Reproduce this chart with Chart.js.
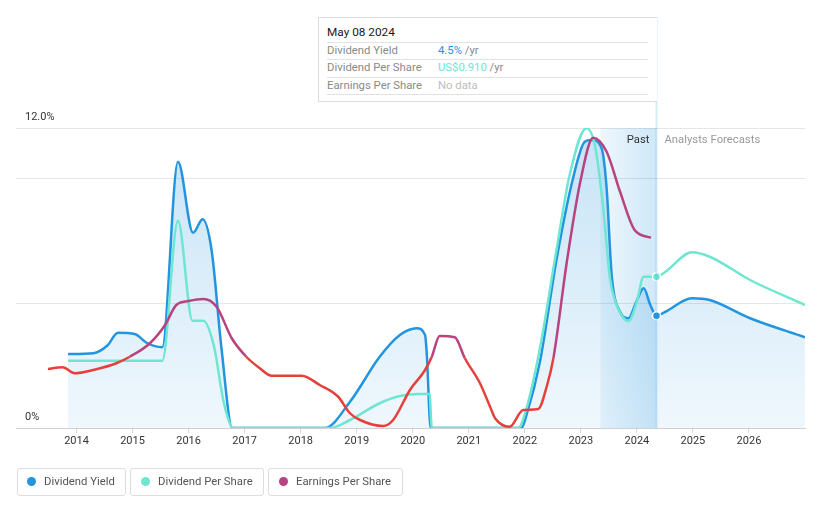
<!DOCTYPE html>
<html><head><meta charset="utf-8">
<script src="https://cdn.jsdelivr.net/npm/chart.js@4/dist/chart.umd.min.js"></script>
<style>
body{margin:0;background:#fff;font-family:Roboto,"Open Sans",Arial,sans-serif;}
#wrap{position:relative;width:821px;height:508px;overflow:hidden;}
#c{position:absolute;left:0;top:0;}
.a{position:absolute;white-space:nowrap;line-height:14px;font-size:11.3px;}
.tip{position:absolute;left:318px;top:17px;width:339px;height:85px;border:1px solid #ddd;border-right:none;box-sizing:border-box;background:#fff;}
.sep{position:absolute;left:327px;width:321px;height:1px;background:#e2e2e2;}
.btn{position:absolute;top:468px;height:28px;border:1px solid #ddd;border-radius:3px;box-sizing:border-box;background:#fff;}
.dot{position:absolute;width:9px;height:9px;border-radius:50%;}
</style></head>
<body><div id="wrap">
<canvas id="c" width="821" height="508"></canvas>
<div class="tip"></div>
<div class="a" style="left:327px;top:25px;color:#1a1a1a;font-size:11.8px;">May 08 2024</div>
<div class="sep" style="top:42px"></div>
<div class="a" style="left:327px;top:44px;color:#8a8a8a;">Dividend Yield</div>
<div class="a" style="left:438px;top:44px;color:#8a8a8a;"><span style="color:#2394df">4.5%</span> /yr</div>
<div class="sep" style="top:59px"></div>
<div class="a" style="left:327px;top:61px;color:#8a8a8a;">Dividend Per Share</div>
<div class="a" style="left:438px;top:61px;color:#8a8a8a;"><span style="color:#6ee6d2">US$0.910</span> /yr</div>
<div class="sep" style="top:77px"></div>
<div class="a" style="left:327px;top:79px;color:#8a8a8a;">Earnings Per Share</div>
<div class="a" style="left:438px;top:79px;color:#bdbdbd;">No data</div>
<div class="sep" style="top:94px"></div>

<div class="btn" style="left:17px;width:109px;"></div>
<div class="dot" style="left:27px;top:477px;background:#2394df"></div>
<div class="a" style="left:44px;top:475px;color:#555;">Dividend Yield</div>
<div class="btn" style="left:130px;width:134px;"></div>
<div class="dot" style="left:141px;top:477px;background:#6ee6d2"></div>
<div class="a" style="left:158px;top:475px;color:#555;">Dividend Per Share</div>
<div class="btn" style="left:268px;width:135px;"></div>
<div class="dot" style="left:279px;top:477px;background:#b8437f"></div>
<div class="a" style="left:296px;top:475px;color:#555;">Earnings Per Share</div>
</div>
<script>
// ---- data (x = decimal year, y = chart value; y-axis in %) ----
const dyX = [2013.85,2014.30,2014.55,2014.74,2015.04,2015.25,2015.53,2015.81,2016.08,2016.25,2016.41,2016.59,2016.78,2018.43,2018.88,2019.41,2019.77,2020.07,2020.22,2020.25,2020.32,2021.94,2022.03,2022.27,2022.57,2022.86,2023.07,2023.19,2023.37,2023.46,2023.55,2023.70,2023.85,2023.99,2024.12,2024.24,2024.35,2024.51,2024.98,2025.30,2026.02,2027.00];
const dyY = [2.96,2.99,3.30,3.81,3.76,3.41,3.23,10.65,7.81,8.35,7.12,3.12,0,0,1.05,2.85,3.72,3.99,3.72,2.99,0,0,0.52,2.65,6.79,9.99,11.45,11.52,11.19,9.59,6.12,4.65,4.39,5.05,5.59,4.92,4.49,4.65,5.19,5.12,4.39,3.63];
const dpsX = [2013.85,2015.53,2015.81,2016.07,2016.26,2016.45,2016.63,2016.80,2018.52,2018.88,2019.41,2019.77,2020.10,2020.30,2020.34,2021.88,2022.03,2022.27,2022.57,2022.80,2023.10,2023.25,2023.40,2023.52,2023.64,2023.85,2024.00,2024.12,2024.35,2024.51,2024.98,2025.30,2026.02,2027.00];
const dpsY = [2.69,2.69,8.29,4.29,4.29,3.30,1.00,0,0,0.32,0.99,1.28,1.36,1.36,0,0,0.79,3.19,7.19,10.12,11.99,11.32,8.79,5.99,4.92,4.28,5.05,6.05,6.05,6.25,7.03,6.85,5.92,4.92];
const epsX = [2013.49,2013.75,2013.97,2014.30,2014.71,2014.95,2015.31,2015.58,2015.78,2016.00,2016.26,2016.50,2016.77,2017.03,2017.27,2017.48,2018.02,2018.34,2018.67,2018.88,2019.06,2019.47,2019.65,2019.95,2020.22,2020.34,2020.48,2020.75,2020.93,2021.20,2021.38,2021.47,2021.73,2021.97,2022.24,2022.39,2022.51,2022.75,2022.99,2023.22,2023.46,2023.70,2023.96,2024.25];
const epsY = [2.36,2.43,2.19,2.32,2.59,2.85,3.39,4.12,4.92,5.08,5.16,4.85,3.59,2.85,2.39,2.09,2.09,1.72,1.25,0.59,0.32,0.08,0.32,1.52,2.32,2.85,3.68,3.63,2.79,1.79,0.85,0.39,0.05,0.72,0.76,1.65,2.79,6.65,9.85,11.61,11.05,9.45,7.92,7.61];
const epsRedRanges = [[2013.0,2014.95],[2017.03,2020.34],[2020.93,2022.51]];
const yearTicks = [2014,2015,2016,2017,2018,2019,2020,2021,2022,2023,2024,2025,2026];
const yTicks = [0,5,10,12];
const yLabels = {0:"0%",12:"12.0%"};
const pastStart = 2023.35, forecastStart = 2024.35;

const BLUE="#2394df", TEAL="#6ee6d2", PURPLE="#b8437f", RED="#e5403b";
const pts = (xs,ys)=>xs.map((x,i)=>({x:x,y:ys[i]}));
const isRed = x => epsRedRanges.some(r=>x>=r[0]&&x<=r[1]);

const deco = {
  id:'deco',
  beforeDatasetsDraw(chart){
    const {ctx,chartArea:a,scales:{x}} = chart;
    const x0=x.getPixelForValue(pastStart), x1=x.getPixelForValue(forecastStart);
    const g=ctx.createLinearGradient(x0,0,x1,0);
    g.addColorStop(0,'rgba(35,148,223,0.08)');
    g.addColorStop(1,'rgba(35,148,223,0.22)');
    ctx.save();
    ctx.fillStyle=g; ctx.fillRect(x0,a.top,x1-x0,a.bottom-a.top);
    ctx.restore();
  },
  afterDatasetsDraw(chart){
    const {ctx,chartArea:a,scales:{x,y}} = chart;
    const x1=x.getPixelForValue(forecastStart);
    ctx.save();
    ctx.strokeStyle='rgba(35,148,223,0.18)'; ctx.lineWidth=2;
    ctx.beginPath(); ctx.moveTo(x1,17); ctx.lineTo(x1,a.bottom); ctx.stroke();
    ctx.font='11.3px Roboto'; ctx.textBaseline='middle';
    ctx.fillStyle='#333'; ctx.textAlign='right'; ctx.fillText('Past',x1-7,a.top+12);
    ctx.fillStyle='#999'; ctx.textAlign='left'; ctx.fillText('Analysts Forecasts',x1+8,a.top+12);
    ctx.font='11px Roboto'; ctx.fillStyle='#333'; ctx.textBaseline='alphabetic';
    for (const v in yLabels){ ctx.fillText(yLabels[v],25,y.getPixelForValue(+v)-8); }
    ctx.restore();
  }
};

function dyFill(c){
  const ch=c.chart, a=ch.chartArea;
  if(!a) return 'rgba(35,148,223,0.15)';
  const g=ch.ctx.createLinearGradient(0,a.top,0,a.bottom);
  g.addColorStop(0,'rgba(35,148,223,0.26)');
  g.addColorStop(1,'rgba(35,148,223,0.07)');
  return g;
}
const markR = c => (c.raw && c.raw.x===forecastStart ? 4 : 0);

new Chart(document.getElementById('c'),{
  type:'line',
  data:{datasets:[
    {label:'Earnings Per Share',data:pts(epsX,epsY),borderColor:PURPLE,borderWidth:2.5,pointRadius:0,
     cubicInterpolationMode:'monotone',fill:false,order:1,
     segment:{borderColor:c=>isRed((c.p0.parsed.x+c.p1.parsed.x)/2)?RED:PURPLE}},
    {label:'Dividend Per Share',data:pts(dpsX,dpsY),borderColor:TEAL,borderWidth:2.5,
     pointRadius:markR,pointBackgroundColor:TEAL,pointBorderColor:'#fff',pointBorderWidth:1.5,
     cubicInterpolationMode:'monotone',fill:false,order:2},
    {label:'Dividend Yield',data:pts(dyX,dyY),borderColor:BLUE,borderWidth:2.5,
     pointRadius:markR,pointBackgroundColor:BLUE,pointBorderColor:'#fff',pointBorderWidth:1.5,
     cubicInterpolationMode:'monotone',fill:'origin',backgroundColor:dyFill,order:3}
  ]},
  options:{
    responsive:false,animation:false,devicePixelRatio:1,
    layout:{padding:{left:16,right:16,top:128,bottom:50}},
    plugins:{legend:{display:false},tooltip:{enabled:false}},
    scales:{
      x:{type:'linear',min:2012.92,max:2027.0,
         afterBuildTicks:s=>{s.ticks=yearTicks.map(v=>({value:v}));},
         afterFit:s=>{s.height=30;},
         ticks:{callback:v=>String(v),color:'#333',font:{family:'Roboto',size:11},padding:2,maxRotation:0,autoSkip:false},
         grid:{drawOnChartArea:false,drawTicks:true,tickLength:5,color:'#d6d6d6'},
         border:{color:'#d0d0d0'}},
      y:{min:0,max:12,
         afterBuildTicks:s=>{s.ticks=yTicks.map(v=>({value:v}));},
         afterFit:s=>{s.width=0;},
         ticks:{display:false},
         grid:{color:'#e6e6e6',drawTicks:false},
         border:{display:false}}
    }
  },
  plugins:[deco]
});
</script>
</body></html>
